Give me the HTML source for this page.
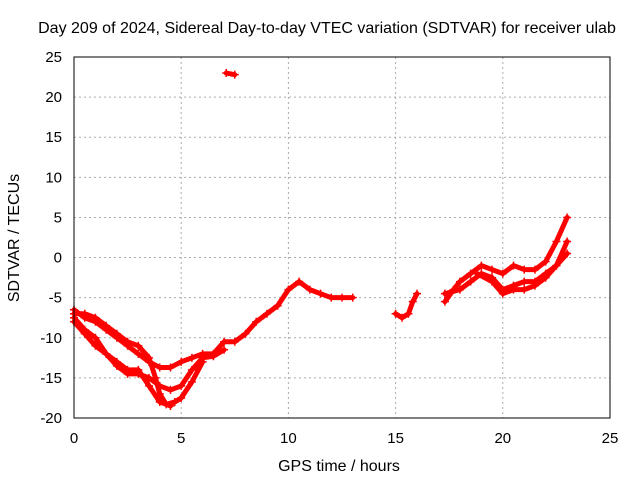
<!DOCTYPE html>
<html><head><meta charset="utf-8"><style>
body{margin:0;background:#fff;}
svg{display:block;font-family:"Liberation Sans",sans-serif;}
</style></head><body>
<svg id="chart" width="640" height="480">
<text x="327" y="33" font-size="16" text-anchor="middle">Day 209 of 2024, Sidereal Day-to-day VTEC variation (SDTVAR) for receiver ulab</text>
<text x="339" y="471" font-size="16" text-anchor="middle">GPS time / hours</text>
<text transform="translate(19,238) rotate(-90)" font-size="16" text-anchor="middle">SDTVAR / TECUs</text>
<g id="grid"></g><g id="ticks"></g><g id="marks"></g>
<rect x="74" y="57" width="536" height="361" fill="none" stroke="#000" stroke-width="1"/>
</svg>
<script>
const xTicks=[0,5,10,15,20,25];
const yTicks=[25,20,15,10,5,0,-5,-10,-15,-20];
const trackA=[[0,-6.5],[0.5,-7.5],[1,-8],[1.5,-9],[2,-10],[2.5,-11],[3,-12],[3.5,-13],[4,-13.7],[4.5,-13.7],[5,-13],[5.5,-12.5],[6,-12],[6.5,-12],[7,-10.5],[7.5,-10.5],[8,-9.5],[8.5,-8],[9,-7],[9.5,-6],[10,-4],[10.5,-3],[11,-4],[11.5,-4.5],[12,-5],[12.5,-5],[13,-5]];
const trackB=[[0,-7.5],[0.5,-9],[1,-10],[1.5,-12],[2,-13.5],[2.5,-14.5],[3,-14.5],[3.5,-15],[4,-16],[4.5,-16.5],[5,-16],[5.5,-14],[6,-12.5],[6.5,-12.3],[7,-11.5]];
const trackC=[[0,-7],[0.5,-7],[1,-7.5],[1.5,-8.5],[2,-9.5],[2.5,-10.5],[3,-11],[3.5,-12.5],[3.8,-15],[4,-17],[4.3,-18.3],[4.7,-18],[5,-17.5],[5.5,-15.5],[6,-13]];
const trackD=[[0,-8],[0.5,-9.5],[1,-11],[1.5,-12],[2,-13],[2.5,-14],[3,-14],[3.5,-16],[4,-18],[4.5,-18.5]];
const trackOut=[[7.1,23],[7.5,22.8]];
const trackH=[[15,-7],[15.3,-7.5],[15.6,-7],[15.8,-5.5],[16,-4.5]];
const trackE=[[17.3,-5.5],[17.7,-4],[18,-3],[18.5,-2],[19,-1],[19.5,-1.5],[20,-2],[20.5,-1],[21,-1.5],[21.5,-1.5],[22,-0.5],[22.5,2],[23,5]];
const trackF=[[17.3,-4.5],[18,-4],[18.5,-3],[19,-2],[19.5,-2.5],[20,-4],[20.5,-3.5],[21,-3],[21.5,-3],[22,-2],[22.5,-1],[23,0.5]];
const trackG=[[18.8,-2],[19.5,-3],[20,-4.5],[20.5,-4],[21,-4],[21.5,-3.5],[22,-2.5],[22.5,-1],[23,2]];
const tracks=[trackA,trackB,trackC,trackD,trackOut,trackH,trackE,trackF,trackG];
const NS="http://www.w3.org/2000/svg";
const X=v=>74+(v-0)/25*536;
const Y=v=>57+(25-v)/45*361;
const grid=document.getElementById('grid'),ticks=document.getElementById('ticks'),marks=document.getElementById('marks');
function mk(t,a,p){const e=document.createElementNS(NS,t);for(const k in a)e.setAttribute(k,a[k]);p.appendChild(e);return e;}
xTicks.forEach(t=>{
 if(t>0&&t<25){const g=mk('line',{x1:X(t),x2:X(t),y1:57,y2:418,stroke:'#aaa','stroke-dasharray':'2,3'},grid);
 
 }
 const l=mk('text',{x:X(t),y:443,'font-size':15,'text-anchor':'middle'},ticks);l.textContent=t;
 
 
});
yTicks.forEach(t=>{
 if(t<25&&t>-20){const g=mk('line',{x1:74,x2:610,y1:Y(t),y2:Y(t),stroke:'#aaa','stroke-dasharray':'2,3'},grid);
 
 }
 const l=mk('text',{x:62,y:Y(t)+5,'font-size':15,'text-anchor':'end'},ticks);l.textContent=t;
 
 
});
tracks.forEach(tr=>{
 const pl=mk('polyline',{points:tr.map(p=>X(p[0])+','+Y(p[1])).join(' '),fill:'none',stroke:'#f00','stroke-width':5,'stroke-linejoin':'round','stroke-linecap':'round'},marks);
 
 
 tr.forEach(p=>{
  const m=mk('path',{d:`M${X(p[0])-4},${Y(p[1])}h8M${X(p[0])},${Y(p[1])-4}v8`,stroke:'#f00','stroke-width':1.5},marks);
  
  
 });
});
</script>
</body></html>
